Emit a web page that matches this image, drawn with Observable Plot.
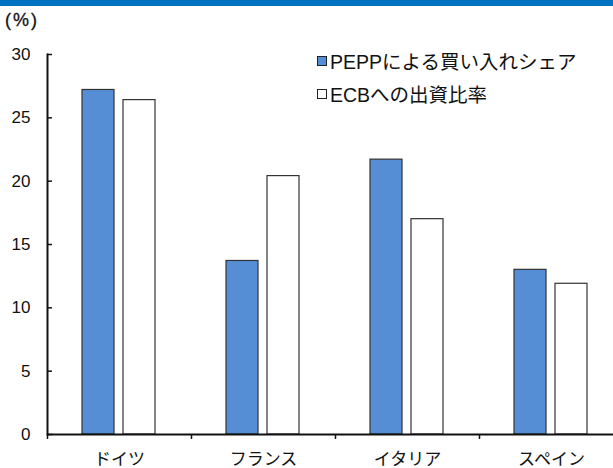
<!DOCTYPE html>
<html>
<head>
<meta charset="utf-8">
<script src="https://cdn.jsdelivr.net/npm/d3@7"></script>
<script src="https://cdn.jsdelivr.net/npm/@observablehq/plot@0.6"></script>
<style>
  body { margin: 0; background: #fff; font-family: "Liberation Sans", "Noto Sans CJK JP", sans-serif; }
  #wrap { position: relative; width: 613px; height: 468px; overflow: hidden; }
  #band { position: absolute; left: 0; top: 0; width: 613px; height: 6px; background: #0070c0; }
  #unit { position: absolute; left: 5px; top: 10px; font-size: 18px; letter-spacing: 2px; color: #111; -webkit-text-stroke: 0.3px #111; }
  #chart { position: absolute; left: 0; top: 6px; }
  #legend { position: absolute; left: 317px; top: 44px; font-size: 19.5px; color: #111; }
  .row { display: flex; align-items: center; height: 33px; }
  .sw { width: 8px; height: 8px; border: 1px solid #222; margin-right: 3px; }
</style>
</head>
<body>
<div id="wrap">
  <div id="band"></div>
  <div id="unit">(%)</div>
  <div id="chart"></div>
  <div id="legend"></div>
</div>
<script>
const countries = ["ドイツ", "フランス", "イタリア", "スペイン"];
const seriesNames = ["PEPPによる買い入れシェア", "ECBへの出資比率"];
const peppShare = [27.2, 13.7, 21.7, 13.0];
const ecbCapital = [26.4, 20.4, 17.0, 11.9];
const yTicks = [0, 5, 10, 15, 20, 25, 30];
const colors = ["#558ed5", "#ffffff"];

const data = [];
countries.forEach((c, i) => {
  data.push({country: c, series: seriesNames[0], value: peppShare[i]});
  data.push({country: c, series: seriesNames[1], value: ecbCapital[i]});
});

const W = 613, H = 462;
const step = (W + 10 - 47) / countries.length;

const plot = Plot.plot({
  width: W,
  height: H,
  marginLeft: 47,
  marginRight: -10,
  marginTop: 48,
  marginBottom: 34,
  style: {fontFamily: '"Liberation Sans", "Noto Sans CJK JP", sans-serif', fontSize: "17px", color: "#111", background: "transparent", overflow: "visible"},
  fx: {domain: countries, padding: 0, label: null},
  x: {domain: seriesNames, paddingInner: 0.217, paddingOuter: 0.843, axis: null},
  y: {domain: [0, 30], label: null},
  color: {domain: seriesNames, range: colors},
  marks: [
    Plot.barY(data, {fx: "country", x: "series", y: "value", fill: "series", stroke: "#333", strokeWidth: 1.2}),
    Plot.ruleY([0], {stroke: "#111", strokeWidth: 2}),
    Plot.frame({anchor: "left", facetAnchor: "left", stroke: "#111", strokeWidth: 2}),
    Plot.axisY({ticks: yTicks, tickSize: 0, tickPadding: 17, fontSize: 17, label: null}),
    Plot.axisY({ticks: yTicks, text: null, tickSize: 5, dx: 5, strokeWidth: 1.5, label: null}),
    Plot.axisFx({anchor: "bottom", tickSize: 0, tickPadding: 18, fontSize: 17, label: null}),
    Plot.axisFx({anchor: "bottom", text: null, tickSize: 5, strokeWidth: 1.5, dx: -step / 2, label: null})
  ]
});
document.getElementById("chart").appendChild(plot);

const legend = document.getElementById("legend");
seriesNames.forEach((s, i) => {
  const row = document.createElement("div");
  row.className = "row";
  const sw = document.createElement("div");
  sw.className = "sw";
  sw.style.background = colors[i];
  const t = document.createElement("span");
  t.textContent = s;
  row.appendChild(sw);
  row.appendChild(t);
  legend.appendChild(row);
});
</script>
</body>
</html>
